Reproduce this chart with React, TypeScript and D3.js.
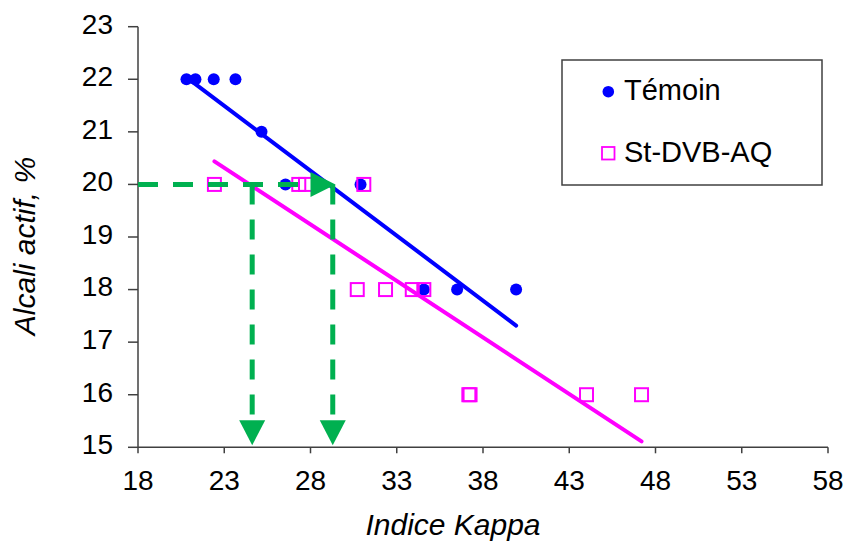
import React from "react";
import * as d3 from "d3";

const xTicks = [18, 23, 28, 33, 38, 43, 48, 53, 58];
const yTicks = [15, 16, 17, 18, 19, 20, 21, 22, 23];

const temoinKappa = [20.81, 21.33, 22.39, 23.65, 25.16, 26.55, 30.9, 34.57, 36.5, 39.92];
const temoinAlcali = [22, 22, 22, 22, 21, 20, 20, 18, 18, 18];

const stKappa = [22.43, 27.32, 27.71, 31.09, 30.71, 32.35, 33.9, 34.57, 37.18, 37.25, 44.0, 47.19];
const stAlcali = [20, 20, 20, 20, 18, 18, 18, 18, 16, 16, 16, 16];

// linear trend lines (slope, intercept)
const trendSlope = [-0.2471, -0.215];
const trendIntercept = [27.18, 25.26];

// reading guide (green arrows)
const guideAlcali = 20;
const guideHorizontalEnd = 29.45;
const guideKappa = [24.62, 29.29];

const seriesNames = ["Témoin", "St-DVB-AQ"];

const FONT = "'Liberation Sans', Arial, sans-serif";
const GREEN = "#00B050";

export default function App() {
  const x = d3.scaleLinear().domain([18, 58]).range([138, 828]);
  const y = d3.scaleLinear().domain([15, 23]).range([447.3, 26.7]);

  const trendLine = (i: number, xs: number[]) => {
    const [a, b] = d3.extent(xs) as [number, number];
    const line = d3
      .line<number>()
      .x((d) => x(d))
      .y((d) => y(trendSlope[i] * d + trendIntercept[i]));
    return line([a, b]) || "";
  };

  const gy = y(guideAlcali);
  const hTip = x(guideHorizontalEnd);
  const axisY = y(15);

  return (
    <svg width={843} height={542} style={{ display: "block", position: "absolute", left: 0, top: 0 }}>
      <rect width={843} height={542} fill="#fff" />
      {/* axes */}
      <g stroke="#404040" strokeWidth={1.5} fill="none">
        <line x1={x(18)} x2={x(18)} y1={y(23)} y2={y(15)} />
        <line x1={x(18)} x2={x(58)} y1={y(15)} y2={y(15)} />
        {yTicks.map((t) => (
          <line key={"yt" + t} x1={x(18) - 10} x2={x(18)} y1={y(t)} y2={y(t)} />
        ))}
        {xTicks.map((t) => (
          <line key={"xt" + t} x1={x(t)} x2={x(t)} y1={y(15)} y2={y(15) + 6} />
        ))}
      </g>
      <g fontFamily={FONT} fontSize={28} fill="#000">
        {yTicks.map((t) => (
          <text key={"yl" + t} x={113} y={y(t) + 6.8} textAnchor="end">
            {t}
          </text>
        ))}
        {xTicks.map((t) => (
          <text key={"xl" + t} x={x(t)} y={490} textAnchor="middle">
            {t}
          </text>
        ))}
      </g>
      <text
        x={453}
        y={535}
        textAnchor="middle"
        fontFamily={FONT}
        fontSize={30}
        fontStyle="italic"
      >
        Indice Kappa
      </text>
      <text
        transform="translate(35,246) rotate(-90)"
        textAnchor="middle"
        fontFamily={FONT}
        fontSize={30}
        fontStyle="italic"
      >
        Alcali actif, %
      </text>

      {/* trend lines */}
      <path d={trendLine(1, stKappa)} stroke="#FF00FF" strokeWidth={4} strokeLinecap="round" fill="none" />
      <path d={trendLine(0, temoinKappa)} stroke="#0000FF" strokeWidth={4} strokeLinecap="round" fill="none" />

      {/* markers */}
      {temoinKappa.map((k, i) => (
        <circle key={"c" + i} cx={x(k)} cy={y(temoinAlcali[i])} r={6} fill="#0000FF" />
      ))}
      {stKappa.map((k, i) => (
        <rect
          key={"s" + i}
          x={x(k) - 6.5}
          y={y(stAlcali[i]) - 6.5}
          width={13}
          height={13}
          fill="none"
          stroke="#FF00FF"
          strokeWidth={2}
        />
      ))}

      {/* green reading guide */}
      <g stroke={GREEN} strokeWidth={5} fill="none" strokeDasharray="20 15">
        <line x1={x(18)} x2={hTip - 24} y1={gy} y2={gy} />
        {guideKappa.map((k, i) => (
          <line key={"gv" + i} x1={x(k)} x2={x(k)} y1={gy} y2={axisY - 26} />
        ))}
      </g>
      <g fill={GREEN}>
        <path d={`M${hTip},${gy} L${hTip - 25},${gy - 12.5} L${hTip - 25},${gy + 12.5} Z`} />
        {guideKappa.map((k, i) => (
          <path
            key={"ga" + i}
            d={`M${x(k)},${axisY - 2} L${x(k) - 13},${axisY - 27} L${x(k) + 13},${axisY - 27} Z`}
          />
        ))}
      </g>

      {/* legend */}
      <rect x={562} y={60} width={260} height={125} fill="#fff" stroke="#404040" strokeWidth={1.5} />
      <circle cx={608.3} cy={91.7} r={5.8} fill="#0000FF" />
      <rect x={602} y={147} width={12.5} height={12.5} fill="none" stroke="#FF00FF" strokeWidth={1.8} />
      <g fontFamily={FONT} fontSize={29} fill="#000">
        <text x={624} y={100}>
          {seriesNames[0]}
        </text>
        <text x={624} y={162}>
          {seriesNames[1]}
        </text>
      </g>
    </svg>
  );
}
